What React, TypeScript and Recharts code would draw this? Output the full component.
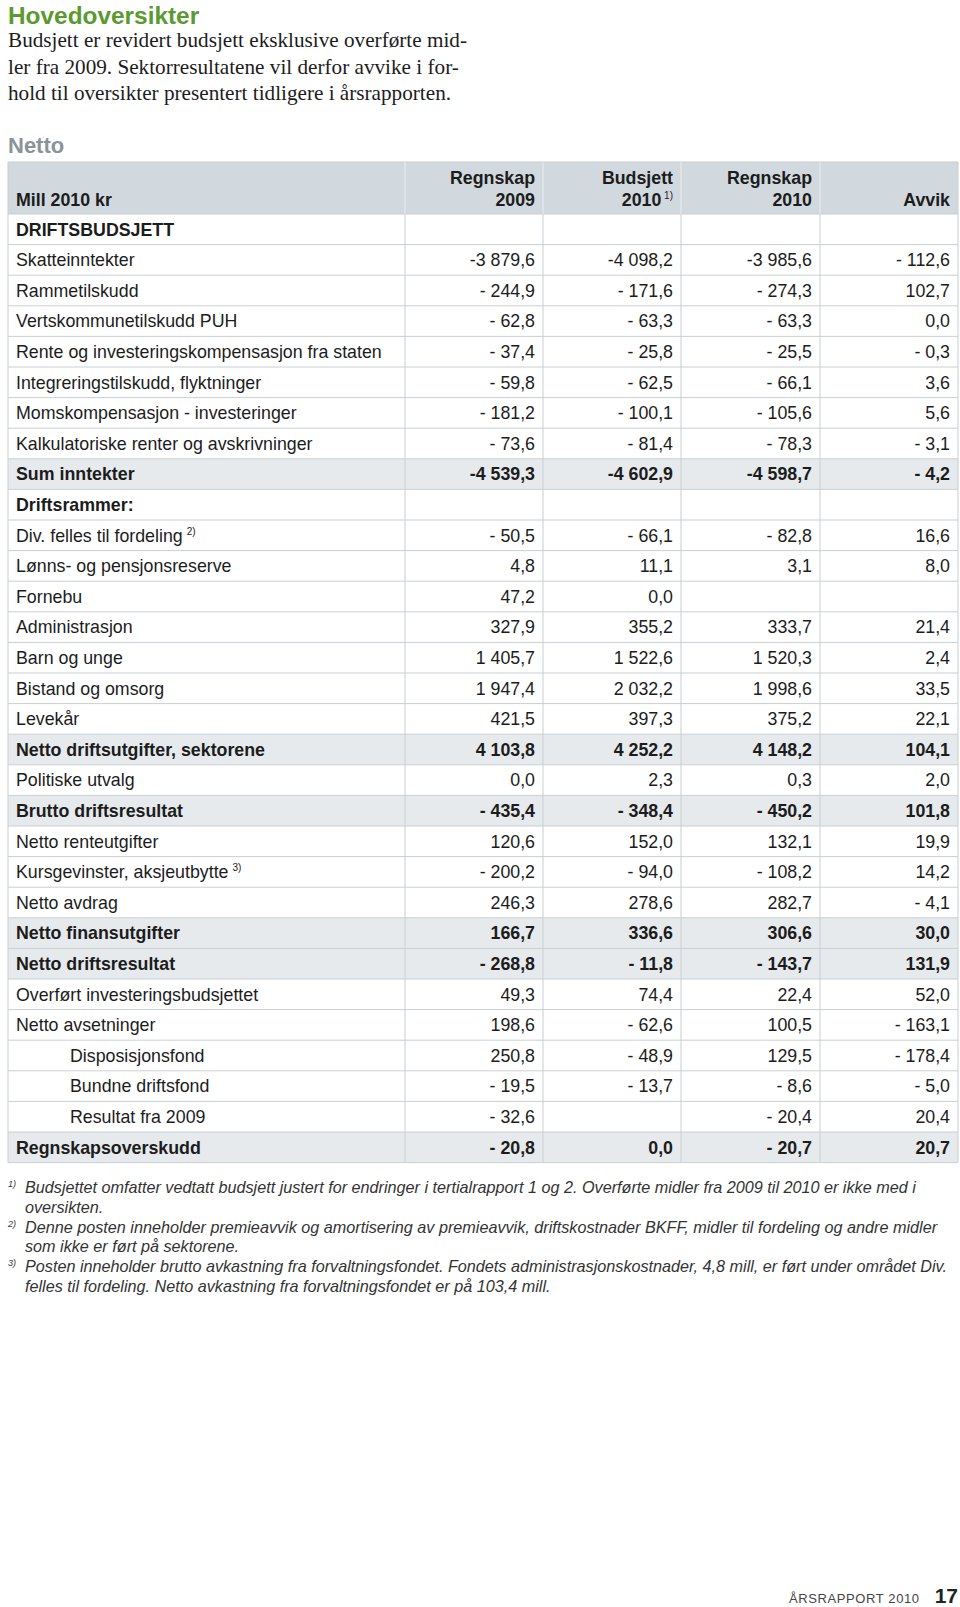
import React from 'react';
import { Surface, Layer, Rectangle, Text } from 'recharts';

// rows of the "Netto" overview table
const rowLabels = [
  'DRIFTSBUDSJETT',
  'Skatteinntekter',
  'Rammetilskudd',
  'Vertskommunetilskudd PUH',
  'Rente og investeringskompensasjon fra staten',
  'Integreringstilskudd, flyktninger',
  'Momskompensasjon - investeringer',
  'Kalkulatoriske renter og avskrivninger',
  'Sum inntekter',
  'Driftsrammer:',
  'Div. felles til fordeling',
  'Lønns- og pensjonsreserve',
  'Fornebu',
  'Administrasjon',
  'Barn og unge',
  'Bistand og omsorg',
  'Levekår',
  'Netto driftsutgifter, sektorene',
  'Politiske utvalg',
  'Brutto driftsresultat',
  'Netto renteutgifter',
  'Kursgevinster, aksjeutbytte',
  'Netto avdrag',
  'Netto finansutgifter',
  'Netto driftsresultat',
  'Overført investeringsbudsjettet',
  'Netto avsetninger',
  'Disposisjonsfond',
  'Bundne driftsfond',
  'Resultat fra 2009',
  'Regnskapsoverskudd',
];

const regnskap2009 = [
  null, -3879.6, -244.9, -62.8, -37.4, -59.8, -181.2, -73.6, -4539.3, null,
  -50.5, 4.8, 47.2, 327.9, 1405.7, 1947.4, 421.5, 4103.8, 0.0, -435.4,
  120.6, -200.2, 246.3, 166.7, -268.8, 49.3, 198.6, 250.8, -19.5, -32.6, -20.8,
];
const budsjett2010 = [
  null, -4098.2, -171.6, -63.3, -25.8, -62.5, -100.1, -81.4, -4602.9, null,
  -66.1, 11.1, 0.0, 355.2, 1522.6, 2032.2, 397.3, 4252.2, 2.3, -348.4,
  152.0, -94.0, 278.6, 336.6, -11.8, 74.4, -62.6, -48.9, -13.7, null, 0.0,
];
const regnskap2010 = [
  null, -3985.6, -274.3, -63.3, -25.5, -66.1, -105.6, -78.3, -4598.7, null,
  -82.8, 3.1, null, 333.7, 1520.3, 1998.6, 375.2, 4148.2, 0.3, -450.2,
  132.1, -108.2, 282.7, 306.6, -143.7, 22.4, 100.5, 129.5, -8.6, -20.4, -20.7,
];
const avvik = [
  null, -112.6, 102.7, 0.0, -0.3, 3.6, 5.6, -3.1, -4.2, null,
  16.6, 8.0, null, 21.4, 2.4, 33.5, 22.1, 104.1, 2.0, 101.8,
  19.9, 14.2, -4.1, 30.0, 131.9, 52.0, -163.1, -178.4, -5.0, 20.4, 20.7,
];

const boldRows = [0, 8, 9, 17, 19, 23, 24, 30];
const shadedRows = [8, 17, 19, 23, 24, 30];
const indentRows = [27, 28, 29];
const rowNotes: Record<number, string> = { 10: '2)', 21: '3)' };

const headerTop = ['Regnskap', 'Budsjett', 'Regnskap', ''];
const headerBottom = ['2009', '2010', '2010', 'Avvik'];
const headerNotes = ['', '1)', '', ''];

const introLines = [
  'Budsjett er revidert budsjett eksklusive overførte mid-',
  'ler fra 2009. Sektorresultatene vil derfor avvike i for-',
  'hold til oversikter presentert tidligere i årsrapporten.',
];

const footnotes = [
  ['1)', 'Budsjettet omfatter vedtatt budsjett justert for endringer i tertialrapport 1 og 2. Overførte midler fra 2009 til 2010 er ikke med i', 'oversikten.'],
  ['2)', 'Denne posten inneholder premieavvik og amortisering av premieavvik, driftskostnader BKFF, midler til fordeling og andre midler', 'som ikke er ført på sektorene.'],
  ['3)', 'Posten inneholder brutto avkastning fra forvaltningsfondet. Fondets administrasjonskostnader, 4,8 mill, er ført under området Div.', 'felles til fordeling. Netto avkastning fra forvaltningsfondet er på 103,4 mill.'],
];

const W = 960;
const H = 1607;
const FONT = '"Liberation Sans", Arial, Helvetica, sans-serif';
const TEXT = '#1c1c1c';
const GRID = '#c9cfd3';
const SIZE = 17.8;

const tableLeft = 8;
const tableRight = 958;
const colEdges = [405, 543, 681, 820];
const headerY = 162;
const headerH = 52;
const rowH = 30.6;

const fmt = (v: number | null) => {
  if (v === null) return '';
  const abs = Math.abs(v);
  const [intPart, dec] = abs.toFixed(1).split('.');
  const grouped = intPart.replace(/\B(?=(\d{3})+(?!\d))/g, ' ');
  const body = `${grouped},${dec}`;
  if (v < 0) return abs >= 1000 ? `-${body}` : `- ${body}`;
  return body;
};

const App: React.FC = () => {
  const columns = [regnskap2009, budsjett2010, regnskap2010, avvik];
  const bodyTop = headerY + headerH;
  const tableBottom = bodyTop + rowLabels.length * rowH;
  const colRight = (i: number) => (i < 3 ? colEdges[i + 1] : tableRight) - 8;

  return (
    <div style={{ position: 'absolute', left: 0, top: 0, background: '#fff' }}>
      <Surface width={W} height={H}>
        <Rectangle x={0} y={0} width={W} height={H} fill="#ffffff" />

        {/* title and intro */}
        <Text x={8} y={24} fontFamily={FONT} fontWeight="bold" fontSize={24.4} fill="#5a9a30">
          Hovedoversikter
        </Text>
        {introLines.map((line, i) => (
          <Text
            key={line}
            x={8}
            y={47 + i * 26.5}
            fontFamily='"Liberation Serif", "Times New Roman", serif'
            fontSize={21.2}
            fill={TEXT}
          >
            {line}
          </Text>
        ))}
        <Text x={8} y={153} fontFamily={FONT} fontWeight="bold" fontSize={22} fill="#8a9399">
          Netto
        </Text>

        {/* table backgrounds */}
        <Rectangle x={tableLeft} y={headerY} width={tableRight - tableLeft} height={headerH} fill="#d1d9df" />
        {shadedRows.map((r) => (
          <Rectangle
            key={`shade-${r}`}
            x={tableLeft}
            y={bodyTop + r * rowH}
            width={tableRight - tableLeft}
            height={rowH}
            fill="#e6eaed"
          />
        ))}

        {/* grid lines */}
        <Layer>
          {rowLabels.map((_, r) => (
            <line
              key={`h-${r}`}
              x1={tableLeft}
              x2={tableRight}
              y1={bodyTop + (r + 1) * rowH}
              y2={bodyTop + (r + 1) * rowH}
              stroke={GRID}
              strokeWidth={1}
            />
          ))}
          <line x1={tableLeft} x2={tableRight} y1={headerY} y2={headerY} stroke={GRID} />
          <line x1={tableLeft} x2={tableRight} y1={bodyTop} y2={bodyTop} stroke={GRID} />
          <line x1={tableLeft} x2={tableLeft} y1={headerY} y2={tableBottom} stroke={GRID} />
          <line x1={tableRight} x2={tableRight} y1={headerY} y2={tableBottom} stroke={GRID} />
          {colEdges.map((x) => (
            <g key={`v-${x}`}>
              <line x1={x} x2={x} y1={headerY} y2={bodyTop} stroke="#e9edf0" />
              <line x1={x} x2={x} y1={bodyTop} y2={tableBottom} stroke={GRID} />
            </g>
          ))}
        </Layer>

        {/* header */}
        <Text x={16} y={bodyTop - 14} verticalAnchor="middle" fontFamily={FONT} fontWeight="bold" fontSize={SIZE} fill={TEXT}>
          Mill 2010 kr
        </Text>
        {headerTop.map((t, i) => (
          <Layer key={`head-${i}`}>
            {t && (
              <Text x={colRight(i)} y={headerY + 16} verticalAnchor="middle" textAnchor="end" fontFamily={FONT} fontWeight="bold" fontSize={SIZE} fill={TEXT}>
                {t}
              </Text>
            )}
            <text
              x={colRight(i)}
              y={bodyTop - 14}
              dy="0.355em"
              textAnchor="end"
              fontFamily={FONT}
              fontWeight="bold"
              fontSize={SIZE}
              fill={TEXT}
            >
              {headerBottom[i]}
              {headerNotes[i] && (
                <tspan fontSize={10} fontWeight="normal" dy={-7}>
                  {' ' + headerNotes[i]}
                </tspan>
              )}
            </text>
          </Layer>
        ))}

        {/* body rows */}
        {rowLabels.map((label, r) => {
          const cy = bodyTop + r * rowH + rowH / 2;
          const bold = boldRows.includes(r);
          const x = indentRows.includes(r) ? 70 : 16;
          return (
            <Layer key={`row-${r}`}>
              <text
                x={x}
                y={cy}
                dy="0.355em"
                fontFamily={FONT}
                fontWeight={bold ? 'bold' : 'normal'}
                fontSize={SIZE}
                fill={TEXT}
              >
                {label}
                {rowNotes[r] && (
                  <tspan fontSize={10} dx={4} dy={-7}>
                    {rowNotes[r]}
                  </tspan>
                )}
              </text>
              {columns.map((col, c) => (
                <Text
                  key={`cell-${r}-${c}`}
                  x={colRight(c)}
                  y={cy}
                  verticalAnchor="middle"
                  textAnchor="end"
                  fontFamily={FONT}
                  fontWeight={bold ? 'bold' : 'normal'}
                  fontSize={SIZE}
                  fill={TEXT}
                >
                  {fmt(col[r])}
                </Text>
              ))}
            </Layer>
          );
        })}

        {/* footnotes */}
        {footnotes.map(([mark, l1, l2], i) => {
          const y0 = 1193 + i * 39.5;
          return (
            <Layer key={`fn-${mark}`}>
              <text x={8} y={y0 - 6} fontFamily={FONT} fontStyle="italic" fontSize={9} fill="#333">
                {mark}
              </text>
              <text x={25} y={y0} fontFamily={FONT} fontStyle="italic" fontSize={16.2} fill="#333">
                {l1}
              </text>
              <text x={25} y={y0 + 19.7} fontFamily={FONT} fontStyle="italic" fontSize={16.2} fill="#333">
                {l2}
              </text>
            </Layer>
          );
        })}

        {/* page footer */}
        <text x={789} y={1603} fontFamily={FONT} fontSize={13} letterSpacing={0.6} fill="#444">
          ÅRSRAPPORT 2010
        </text>
        <text x={958} y={1603} textAnchor="end" fontFamily={FONT} fontWeight="bold" fontSize={21} fill="#222">
          17
        </text>
      </Surface>
    </div>
  );
};

export default App;
